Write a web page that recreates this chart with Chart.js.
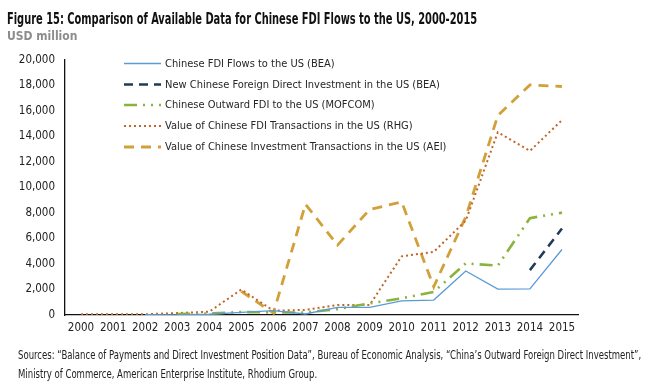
<!DOCTYPE html>
<html>
<head>
<meta charset="utf-8">
<script src="https://cdn.jsdelivr.net/npm/chart.js@4"></script>
<style>
  html, body { margin: 0; padding: 0; background: #fff; }
  body { width: 659px; height: 392px; position: relative; overflow: hidden; font-family: "Liberation Sans Narrow", "DejaVu Sans Condensed", sans-serif; }
  #title { position: absolute; left: 7px; top: 9px; font-size: 16px; font-weight: bold; color: #111; white-space: nowrap; transform-origin: 0 0; }
  #sub { position: absolute; left: 7px; top: 29px; font-size: 12px; font-weight: bold; color: #8c8c8c; white-space: nowrap; }
  #src { position: absolute; left: 18px; top: 346px; font-size: 12px; color: #222; line-height: 19px; white-space: nowrap; transform-origin: 0 0; }
  #c { position: absolute; left: 0; top: 0; }
</style>
</head>
<body>
<canvas id="c" width="659" height="392"></canvas>
<div id="title">Figure 15: Comparison of Available Data for Chinese FDI Flows to the US, 2000-2015</div>
<div id="sub">USD million</div>
<div id="src"><div id="src1">Sources: “Balance of Payments and Direct Investment Position Data”, Bureau of Economic Analysis, “China’s Outward Foreign Direct Investment”,</div><div>Ministry of Commerce, American Enterprise Institute, Rhodium Group.</div></div>
<script>
const years = ["2000","2001","2002","2003","2004","2005","2006","2007","2008","2009","2010","2011","2012","2013","2014","2015"];
const yTicks = [0,2000,4000,6000,8000,10000,12000,14000,16000,18000,20000];
const bea     = [null,null,20,10,60,210,340,80,600,600,1100,1170,3450,2030,2050,5140];
const beaNew  = [null,null,null,null,null,null,null,null,null,null,null,null,null,null,3520,6780];
const mofcom  = [null,null,null,65,120,232,198,196,462,909,1308,1811,4048,3873,7596,8029];
const rhg     = [60,60,60,150,260,2000,340,400,780,780,4600,4950,7400,14340,12870,15280];
const aei     = [null,null,null,null,null,1850,150,8690,5480,8270,8870,2210,7700,15650,18050,17920];
const seriesNames = [
  "Chinese FDI Flows to the US (BEA)",
  "New Chinese Foreign Direct Investment in the US (BEA)",
  "Chinese Outward FDI to the US (MOFCOM)",
  "Value of Chinese FDI Transactions in the US (RHG)",
  "Value of Chinese Investment Transactions in the US (AEI)"
];

function fit(el, w) { const s = w / el.scrollWidth; el.style.transform = 'scaleX(' + s + ')'; }
fit(document.getElementById('title'), 470);
const src = document.getElementById('src');
src.style.transform = 'scaleX(' + (623 / document.getElementById('src1').scrollWidth) + ')';

const FONT = "'Liberation Sans Narrow', 'DejaVu Sans Condensed', sans-serif";

const legendPlugin = {
  id: 'inlegend',
  afterDraw(chart) {
    const ctx = chart.ctx;
    const x0 = 124, x1 = 161, tx = 165;
    const ys = [63.5, 84.5, 105, 126, 147];
    chart.data.datasets.forEach((ds, i) => {
      const y = ys[i];
      ctx.save();
      ctx.strokeStyle = ds.borderColor;
      ctx.lineWidth = ds.borderWidth;
      ctx.setLineDash(ds.borderDash || []);
      ctx.lineCap = 'butt';
      ctx.beginPath(); ctx.moveTo(x0, y); ctx.lineTo(x1, y); ctx.stroke();
      ctx.setLineDash([]);
      ctx.fillStyle = '#262626';
      ctx.font = "11px " + FONT;
      ctx.textBaseline = 'middle';
      ctx.fillText(ds.label, tx, y + 0.5);
      ctx.restore();
    });
  }
};

const mk = (label, data, color, width, dash) => ({
  label, data, borderColor: color, backgroundColor: color, borderWidth: width,
  borderDash: dash, pointRadius: 0, tension: 0, spanGaps: false, fill: false
});

new Chart(document.getElementById('c'), {
  type: 'line',
  data: {
    labels: years,
    datasets: [
      mk(seriesNames[0], bea, '#5b9bd5', 1.3, []),
      mk(seriesNames[1], beaNew, '#1f3b57', 2.5, [9, 6]),
      mk(seriesNames[2], mofcom, '#8db33f', 2.6, [13, 6, 2, 6, 2, 6]),
      mk(seriesNames[3], rhg, '#c0662a', 2, [2, 3]),
      mk(seriesNames[4], aei, '#d2a038', 2.8, [10, 7])
    ]
  },
  options: {
    responsive: false,
    animation: false,
    devicePixelRatio: 1,
    layout: { padding: { left: 0, right: 81, top: 60, bottom: 0 } },
    plugins: { legend: { display: false }, tooltip: { enabled: false }, title: { display: false } },
    scales: {
      x: {
        offset: true,
        grid: { display: false, drawTicks: false },
        border: { display: true, color: '#111', width: 1.3 },
        ticks: { color: '#222', font: { family: FONT, size: 11.5 }, padding: 6, maxRotation: 0, autoSkip: false },
        afterFit(s) { s.height = 77; }
      },
      y: {
        min: 0, max: 20000,
        afterBuildTicks(s) { s.ticks = yTicks.map(v => ({ value: v })); },
        grid: { display: false, drawTicks: false },
        border: { display: true, color: '#111', width: 1.3 },
        ticks: { color: '#222', font: { family: FONT, size: 11.5 }, padding: 10,
                 callback: v => v.toLocaleString('en-US') },
        afterFit(s) { s.width = 65; }
      }
    }
  },
  plugins: [legendPlugin]
});
</script>
</body>
</html>
